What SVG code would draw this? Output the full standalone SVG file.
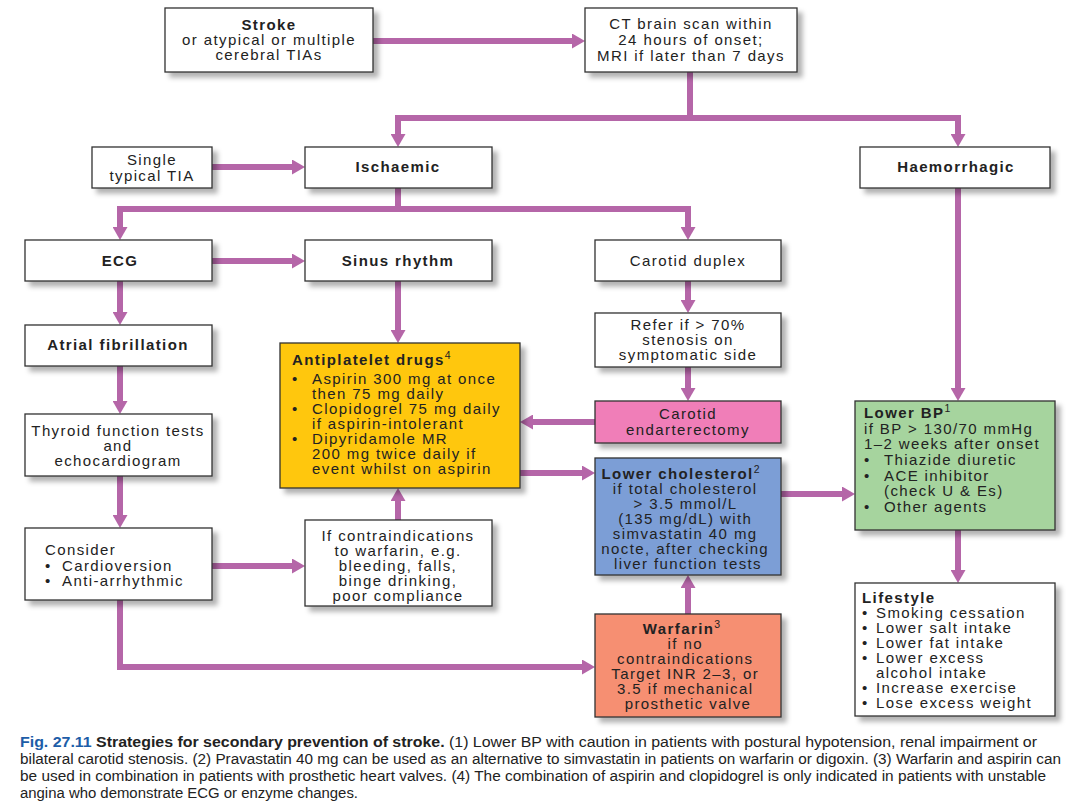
<svg xmlns="http://www.w3.org/2000/svg" width="1080" height="810" viewBox="0 0 1080 810">
<style>
.box{stroke:#333;stroke-width:1.3;filter:url(#sh)}
.w{fill:#fff}
.t{font-family:"Liberation Sans",Arial,Helvetica,sans-serif;font-size:15px;letter-spacing:1.4px;fill:#222}
.c{text-anchor:middle}
.b{font-weight:bold}
.sup{font-size:10.5px}
.conn{fill:none;stroke:#B566A8;stroke-width:6}
.cap{font-family:"Liberation Sans Narrow","Liberation Sans",Arial,sans-serif;font-size:14px;fill:#222}
</style>
<defs>
<filter id="sh" x="-10%" y="-10%" width="130%" height="140%">
<feDropShadow dx="5" dy="5" stdDeviation="2.5" flood-color="#000" flood-opacity="0.3"/>
</filter>
<marker id="ah" markerUnits="userSpaceOnUse" markerWidth="13" markerHeight="15" refX="0" refY="7.5" orient="auto-start-reverse">
<path d="M0,0 L13,7.5 L0,15 Z" fill="#B566A8"/>
</marker>
</defs>
<rect width="1080" height="810" fill="#fff"/>

<g id="connectors">
<path class="conn" d="M373,41 H572" marker-end="url(#ah)"/>
<path class="conn" d="M690,72 V118"/>
<path class="conn" d="M398,134 V118 H958 V134" marker-start="url(#ah)" marker-end="url(#ah)"/>
<path class="conn" d="M212,167 H292" marker-end="url(#ah)"/>
<path class="conn" d="M398,188 V209"/>
<path class="conn" d="M120,227 V209 H688 V227" marker-start="url(#ah)" marker-end="url(#ah)"/>
<path class="conn" d="M212,261 H292" marker-end="url(#ah)"/>
<path class="conn" d="M688,281 V300" marker-end="url(#ah)"/>
<path class="conn" d="M688,367 V388" marker-end="url(#ah)"/>
<path class="conn" d="M595,422 H533" marker-end="url(#ah)"/>
<path class="conn" d="M398,281 V330" marker-end="url(#ah)"/>
<path class="conn" d="M120,281 V312" marker-end="url(#ah)"/>
<path class="conn" d="M120,366 V401" marker-end="url(#ah)"/>
<path class="conn" d="M120,476 V515" marker-end="url(#ah)"/>
<path class="conn" d="M212,566 H292" marker-end="url(#ah)"/>
<path class="conn" d="M398,520 V501" marker-end="url(#ah)"/>
<path class="conn" d="M120,600 V667 H582" marker-end="url(#ah)"/>
<path class="conn" d="M520,473 H582" marker-end="url(#ah)"/>
<path class="conn" d="M688,614 V588" marker-end="url(#ah)"/>
<path class="conn" d="M781,494 H842" marker-end="url(#ah)"/>
<path class="conn" d="M958,188 V388" marker-end="url(#ah)"/>
<path class="conn" d="M958,530 V570" marker-end="url(#ah)"/>
</g>

<g id="stroke">
<rect class="box w" x="165" y="8" width="208" height="64"/>
<text class="t c"><tspan class="b" x="269" y="30">Stroke</tspan><tspan x="269" y="45">or atypical or multiple</tspan><tspan x="269" y="60">cerebral TIAs</tspan></text>
</g>

<g id="ct">
<rect class="box w" x="585" y="8" width="212" height="64"/>
<text class="t c"><tspan x="691" y="29">CT brain scan within</tspan><tspan x="691" y="45">24 hours of onset;</tspan><tspan x="691" y="61">MRI if later than 7 days</tspan></text>
</g>

<g id="single-tia">
<rect class="box w" x="92" y="147" width="120" height="41"/>
<text class="t c"><tspan x="152" y="165">Single</tspan><tspan x="152" y="181">typical TIA</tspan></text>
</g>

<g id="ischaemic">
<rect class="box w" x="305" y="147" width="187" height="41"/>
<text class="t c b" x="398" y="172">Ischaemic</text>
</g>

<g id="haemorrhagic">
<rect class="box w" x="860" y="147" width="190" height="41"/>
<text class="t c b" x="956" y="172">Haemorrhagic</text>
</g>

<g id="ecg">
<rect class="box w" x="25" y="240" width="187" height="41"/>
<text class="t c b" x="120" y="266">ECG</text>
</g>

<g id="sinus">
<rect class="box w" x="305" y="240" width="187" height="41"/>
<text class="t c b" x="398" y="266">Sinus rhythm</text>
</g>

<g id="carotid-duplex">
<rect class="box w" x="595" y="240" width="186" height="41"/>
<text class="t c" x="688" y="266">Carotid duplex</text>
</g>

<g id="af">
<rect class="box w" x="25" y="325" width="187" height="41"/>
<text class="t c b" x="118" y="350">Atrial fibrillation</text>
</g>

<g id="thyroid">
<rect class="box w" x="25" y="414" width="187" height="62"/>
<text class="t c"><tspan x="118" y="436">Thyroid function tests</tspan><tspan x="118" y="451">and</tspan><tspan x="118" y="466">echocardiogram</tspan></text>
</g>

<g id="consider">
<rect class="box w" x="25" y="528" width="187" height="72"/>
<text class="t"><tspan x="45" y="555">Consider</tspan><tspan x="45" y="571">•</tspan><tspan x="62" y="571">Cardioversion</tspan><tspan x="45" y="586">•</tspan><tspan x="62" y="586">Anti-arrhythmic</tspan></text>
</g>

<g id="antiplatelet">
<rect class="box" fill="#FFC70B" x="280" y="343" width="240" height="145"/>
<text class="t"><tspan class="b" x="292" y="365">Antiplatelet drugs</tspan><tspan class="sup" dy="-6">4</tspan>
<tspan x="292" y="384">•</tspan><tspan x="312" y="384">Aspirin 300 mg at once</tspan>
<tspan x="312" y="399">then 75 mg daily</tspan>
<tspan x="292" y="414">•</tspan><tspan x="312" y="414">Clopidogrel 75 mg daily</tspan>
<tspan x="312" y="429">if aspirin-intolerant</tspan>
<tspan x="292" y="444">•</tspan><tspan x="312" y="444">Dipyridamole MR</tspan>
<tspan x="312" y="459">200 mg twice daily if</tspan>
<tspan x="312" y="474">event whilst on aspirin</tspan></text>
</g>

<g id="if-contra">
<rect class="box w" x="305" y="520" width="187" height="86"/>
<text class="t c"><tspan x="398" y="541">If contraindications</tspan><tspan x="398" y="556">to warfarin, e.g.</tspan><tspan x="398" y="571">bleeding, falls,</tspan><tspan x="398" y="586">binge drinking,</tspan><tspan x="398" y="601">poor compliance</tspan></text>
</g>

<g id="refer">
<rect class="box w" x="595" y="313" width="186" height="54"/>
<text class="t c"><tspan x="688" y="330">Refer if &gt; 70%</tspan><tspan x="688" y="345">stenosis on</tspan><tspan x="688" y="360">symptomatic side</tspan></text>
</g>

<g id="endarterectomy">
<rect class="box" fill="#F07EB8" x="595" y="401" width="186" height="42"/>
<text class="t c"><tspan x="688" y="419">Carotid</tspan><tspan x="688" y="435">endarterectomy</tspan></text>
</g>

<g id="cholesterol">
<rect class="box" fill="#7B9ED6" x="595" y="458" width="186" height="117"/>
<text class="t c"><tspan class="b" x="684" y="479">Lower cholesterol</tspan><tspan class="sup" dy="-6">2</tspan>
<tspan x="688" y="494">if total cholesterol</tspan>
<tspan x="688" y="509">&gt; 3.5 mmol/L</tspan>
<tspan x="688" y="524">(135 mg/dL) with</tspan>
<tspan x="688" y="539">simvastatin 40 mg</tspan>
<tspan x="688" y="554">nocte, after checking</tspan>
<tspan x="688" y="569">liver function tests</tspan></text>
</g>

<g id="warfarin">
<rect class="box" fill="#F68F72" x="595" y="614" width="186" height="103"/>
<text class="t c"><tspan class="b" x="685" y="634">Warfarin</tspan><tspan class="sup" dy="-6">3</tspan>
<tspan x="688" y="649">if no</tspan>
<tspan x="688" y="664">contraindications</tspan>
<tspan x="688" y="679">Target INR 2–3, or</tspan>
<tspan x="688" y="694">3.5 if mechanical</tspan>
<tspan x="688" y="709">prosthetic valve</tspan></text>
</g>

<g id="lower-bp">
<rect class="box" fill="#A6D49E" x="855" y="401" width="200" height="129"/>
<text class="t"><tspan class="b" x="864" y="418">Lower BP</tspan><tspan class="sup" dy="-6">1</tspan>
<tspan x="864" y="434">if BP &gt; 130/70 mmHg</tspan>
<tspan x="864" y="449">1–2 weeks after onset</tspan>
<tspan x="864" y="465">•</tspan><tspan x="884" y="465">Thiazide diuretic</tspan>
<tspan x="864" y="481">•</tspan><tspan x="884" y="481">ACE inhibitor</tspan>
<tspan x="884" y="496">(check U &amp; Es)</tspan>
<tspan x="864" y="512">•</tspan><tspan x="884" y="512">Other agents</tspan></text>
</g>

<g id="lifestyle">
<rect class="box w" x="855" y="583" width="200" height="133"/>
<text class="t"><tspan class="b" x="862" y="603">Lifestyle</tspan>
<tspan x="862" y="618">•</tspan><tspan x="876" y="618">Smoking cessation</tspan>
<tspan x="862" y="633">•</tspan><tspan x="876" y="633">Lower salt intake</tspan>
<tspan x="862" y="648">•</tspan><tspan x="876" y="648">Lower fat intake</tspan>
<tspan x="862" y="663">•</tspan><tspan x="876" y="663">Lower excess</tspan>
<tspan x="876" y="678">alcohol intake</tspan>
<tspan x="862" y="693">•</tspan><tspan x="876" y="693">Increase exercise</tspan>
<tspan x="862" y="708">•</tspan><tspan x="876" y="708">Lose excess weight</tspan></text>
</g>

<g id="caption">
<text class="cap" x="20" y="747" textLength="1017" lengthAdjust="spacingAndGlyphs"><tspan font-weight="bold" fill="#1D5DA8">Fig. 27.11</tspan><tspan font-weight="bold">  Strategies for secondary prevention of stroke.</tspan> (1) Lower BP with caution in patients with postural hypotension, renal impairment or</text>
<text class="cap" x="20" y="764" textLength="1041" lengthAdjust="spacingAndGlyphs">bilateral carotid stenosis. (2) Pravastatin 40 mg can be used as an alternative to simvastatin in patients on warfarin or digoxin. (3) Warfarin and aspirin can</text>
<text class="cap" x="20" y="781" textLength="1026" lengthAdjust="spacingAndGlyphs">be used in combination in patients with prosthetic heart valves. (4) The combination of aspirin and clopidogrel is only indicated in patients with unstable</text>
<text class="cap" x="20" y="798" textLength="338" lengthAdjust="spacingAndGlyphs">angina who demonstrate ECG or enzyme changes.</text>
</g>
</svg>
